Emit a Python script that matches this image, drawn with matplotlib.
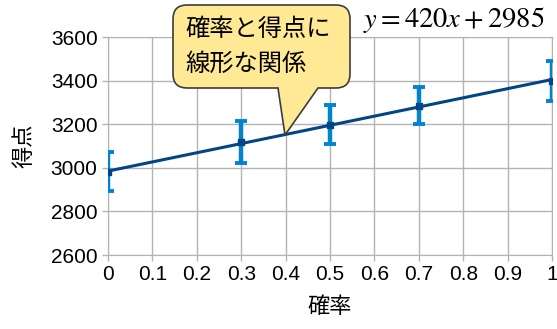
import matplotlib.pyplot as plt
import numpy as np
from matplotlib.path import Path
from matplotlib.patches import PathPatch

plt.rcParams['font.family'] = ['Liberation Sans', 'Noto Sans CJK JP', 'DejaVu Sans']
plt.rcParams['mathtext.fontset'] = 'stix'

# data
prob = [0, 0.3, 0.5, 0.7, 1.0]
score = [2982, 3118, 3198, 3285, 3400]
err = [90, 95, 90, 85, 92]
slope = 420
intercept = 2985
callout_lines = ['確率と得点に', '線形な関係']
xticks = np.arange(0, 1.01, 0.1)
xtick_labels = ['0', '0.1', '0.2', '0.3', '0.4', '0.5', '0.6', '0.7', '0.8', '0.9', '1']
yticks = [2600, 2800, 3000, 3200, 3400, 3600]

W, H = 557, 329
fig = plt.figure(figsize=(W / 100, H / 100), dpi=100)
ax = fig.add_axes([108 / W, 1 - 255 / H, (552 - 108) / W, (255 - 37) / H])

grid_c = '#b3b3b3'
ax.set_xlim(0, 1)
ax.set_ylim(2600, 3600)
ax.set_xticks(xticks)
ax.set_xticklabels(xtick_labels)
ax.set_yticks(yticks)
ax.grid(True, color=grid_c, linewidth=1)
ax.set_axisbelow(True)
for s in ax.spines.values():
    s.set_color(grid_c)
ax.tick_params(colors=grid_c, labelcolor='black', labelsize=15, length=4, width=1)

# regression line
xs = np.array([0, 1])
ax.plot(xs, slope * xs + intercept, color='#004586', linewidth=2.2, zorder=3)

ax.errorbar(prob, score, yerr=err, fmt='none', ecolor='#0084d1',
            elinewidth=3.2, capsize=4, capthick=2.8, zorder=4)
ax.plot(prob, score, 's', color='#004586', markersize=5, zorder=5)

ax.set_xlabel('確率', fontsize=16, labelpad=9)
ax.set_ylabel('得点', fontsize=16, labelpad=11)

# callout balloon (figure pixel coords)
x0, x1 = 173, 350
y0, y1 = H - 88, H - 5
r = 14
tip = (285, H - 135)
b1, b2 = 278, 318
verts = [
    (x0 + r, y0), (b1, y0), tip, (b2, y0), (x1 - r, y0),
    (x1, y0), (x1, y0 + r),
    (x1, y1 - r),
    (x1, y1), (x1 - r, y1),
    (x0 + r, y1),
    (x0, y1), (x0, y1 - r),
    (x0, y0 + r),
    (x0, y0), (x0 + r, y0),
    (x0 + r, y0),
]
codes = [Path.MOVETO, Path.LINETO, Path.LINETO, Path.LINETO, Path.LINETO,
         Path.CURVE3, Path.CURVE3,
         Path.LINETO,
         Path.CURVE3, Path.CURVE3,
         Path.LINETO,
         Path.CURVE3, Path.CURVE3,
         Path.LINETO,
         Path.CURVE3, Path.CURVE3,
         Path.CLOSEPOLY]
verts = [(vx / 100, vy / 100) for vx, vy in verts]
balloon = PathPatch(Path(verts, codes), facecolor='#ffe994', edgecolor='#3c3c3c',
                    linewidth=1.2, transform=fig.dpi_scale_trans, zorder=10)
fig.patches.append(balloon)
fig.text(185 / W, 1 - 30 / H, callout_lines[0], fontsize=17.5, va='center', ha='left', zorder=11)
fig.text(185 / W, 1 - 64 / H, callout_lines[1], fontsize=17.5, va='center', ha='left', zorder=11)

fig.text(544 / W, 1 - 20 / H, r'$y = %dx + %d$' % (slope, intercept),
         fontsize=20.5, ha='right', va='center')

fig.savefig('out.png', dpi=100)
